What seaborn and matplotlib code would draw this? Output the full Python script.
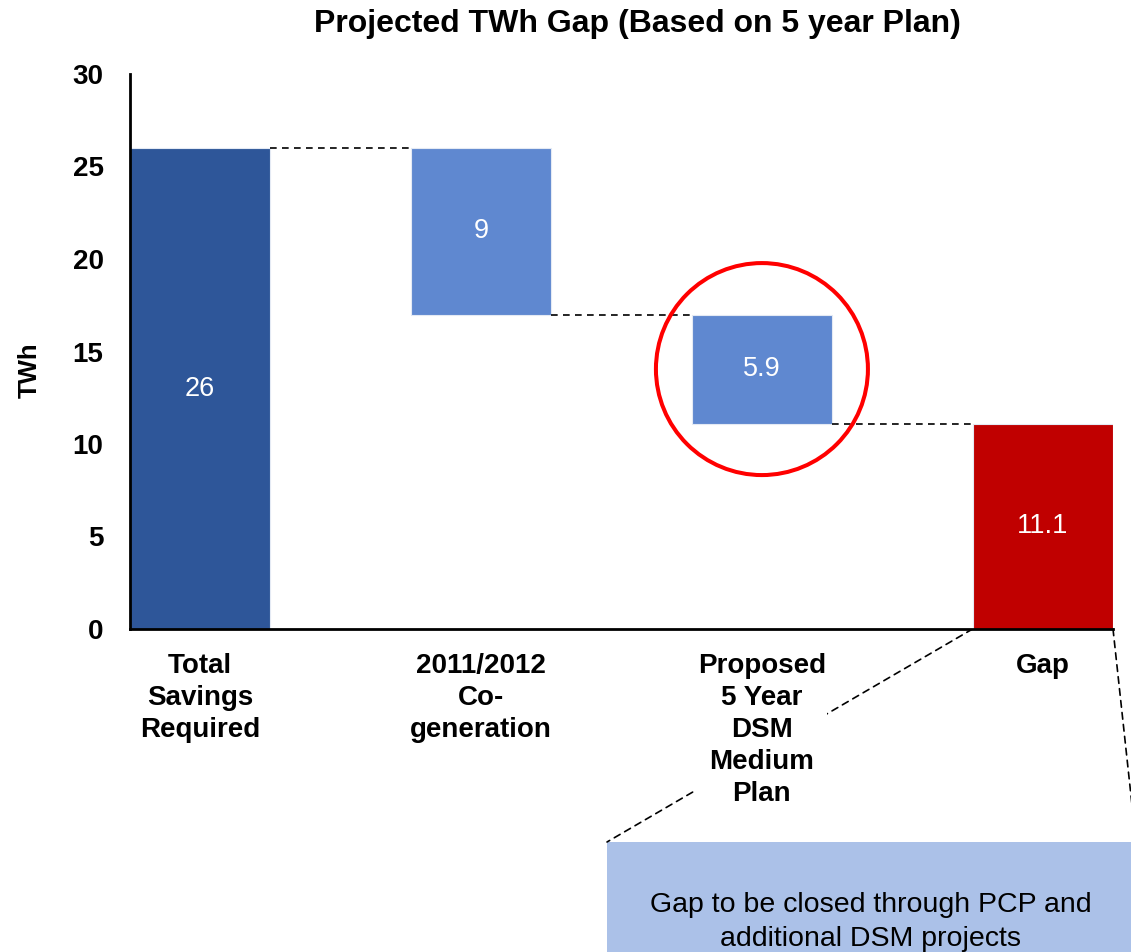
import numpy as np
import pandas as pd
import seaborn as sns
from matplotlib import pyplot as plt
from matplotlib.patches import Ellipse, Rectangle, ConnectionPatch

# chart data
labels = ["Total\nSavings\nRequired", "2011/2012\nCo-\ngeneration",
          "Proposed\n5 Year\nDSM\nMedium\nPlan", "Gap"]
values = [26, 9, 5.9, 11.1]
kinds = ["total", "step", "step", "total"]
bar_colors = ["#2E5699", "#5F88D0", "#5F88D0", "#C00000"]
yticks = [0, 5, 10, 15, 20, 25, 30]
title = "Projected TWh Gap (Based on 5 year Plan)"
note = "Gap to be closed through PCP and\nadditional DSM projects"

# waterfall levels
tops, bottoms, levels = [], [], []
level = 0
for v, k in zip(values, kinds):
    if k == "total":
        tops.append(v)
        bottoms.append(0)
        level = v
    else:
        tops.append(level)
        bottoms.append(level - v)
        level = level - v
    levels.append(level)
heights = [t - b for t, b in zip(tops, bottoms)]

# empty slots between the bars
order = [labels[0], "", labels[1], " ", labels[2], "  ", labels[3]]
df = pd.DataFrame({"step": labels, "height": heights})

sns.set_style("white")
plt.rcParams['font.family'] = ['Liberation Sans', 'DejaVu Sans']
plt.rcParams['text.color'] = 'black'
plt.rcParams['xtick.color'] = 'black'
plt.rcParams['ytick.color'] = 'black'
plt.rcParams['axes.labelcolor'] = 'black'

W, H = 1131, 952
fig = plt.figure(figsize=(W / 100, H / 100), dpi=100)
ax = fig.add_axes([130 / W, 1 - 629 / H, 983 / W, 555 / H])

sns.barplot(data=df, x="step", y="height", order=order, bottom=bottoms,
            width=1, errorbar=None, color=bar_colors[0], ax=ax,
            edgecolor="#e4eaf4", linewidth=0.8)
for patch, c in zip(ax.patches, bar_colors):
    patch.set_facecolor(c)

ax.set_xlim(-0.5, 6.5)
ax.set_ylim(0, 30)
ax.set_yticks(yticks)
ax.set_xticks(range(len(order)))
ax.set_xticklabels(order, fontsize=20, fontweight="bold", linespacing=1.3)
ax.set_xticks(np.arange(-0.5, len(order), 1), minor=True)
ax.set_xlabel("")
ax.set_ylabel("")
ax.tick_params(axis="x", which="major", length=0, pad=17)
ax.tick_params(axis="x", which="minor", length=6, width=1.5, direction="out", color="black")
ax.tick_params(axis="y", length=6, width=1.5, direction="out", pad=13, labelsize=20, color="black")
for t in ax.get_yticklabels():
    t.set_fontweight("bold")
ax.get_xticklabels()[4].set_bbox(dict(facecolor="white", edgecolor="none", pad=1))

sns.despine(ax=ax)
for s in ["left", "bottom"]:
    ax.spines[s].set_linewidth(2)
    ax.spines[s].set_color("black")

# value labels
for lab, b, h, v in zip(labels, bottoms, heights, values):
    ax.text(order.index(lab), b + h / 2, f"{v:g}", ha="center", va="center",
            color="white", fontsize=19.5)

# dashed connectors
for i in range(len(labels) - 1):
    x0 = order.index(labels[i]) + 0.5
    x1 = order.index(labels[i + 1]) - 0.5
    ax.plot([x0, x1], [levels[i], levels[i]], color="black", lw=1.2,
            linestyle=(0, (4, 3.2)))

# highlight circle
k = order.index(labels[2])
ax.add_patch(Ellipse((k, bottoms[2] + heights[2] / 2), 212 / (983 / 7), 212 / (555 / 30),
                     fill=False, edgecolor="#FF0000", lw=2.9, clip_on=False, zorder=5))

# callout box
box_l, box_r, box_t = 607 / W, 1136 / W, 1 - 842 / H
fig.add_artist(Rectangle((box_l, 0), box_r - box_l, box_t, transform=fig.transFigure,
                         facecolor="#ABC1E8", edgecolor="none", zorder=-2))
fig.text(871 / W, 1 - 922 / H, note, ha="center", va="center", fontsize=20.5,
         linespacing=1.36)
g = order.index(labels[3])
for xa, xb in [(g - 0.5, box_l), (g + 0.5, box_r)]:
    fig.add_artist(ConnectionPatch(xyA=(xa, 0), coordsA=ax.transData,
                                   xyB=(xb, box_t), coordsB=fig.transFigure,
                                   color="black", lw=1.2, linestyle=(0, (4, 3.2)),
                                   zorder=-1))

fig.text(637 / W, 1 - 24 / H, title, ha="center", va="center", fontsize=23,
         fontweight="bold")
fig.text(30 / W, 1 - 370 / H, "TWh", ha="center", va="center", rotation=90,
         fontsize=18.5, fontweight="bold")

fig.savefig("out.png", dpi=100)
